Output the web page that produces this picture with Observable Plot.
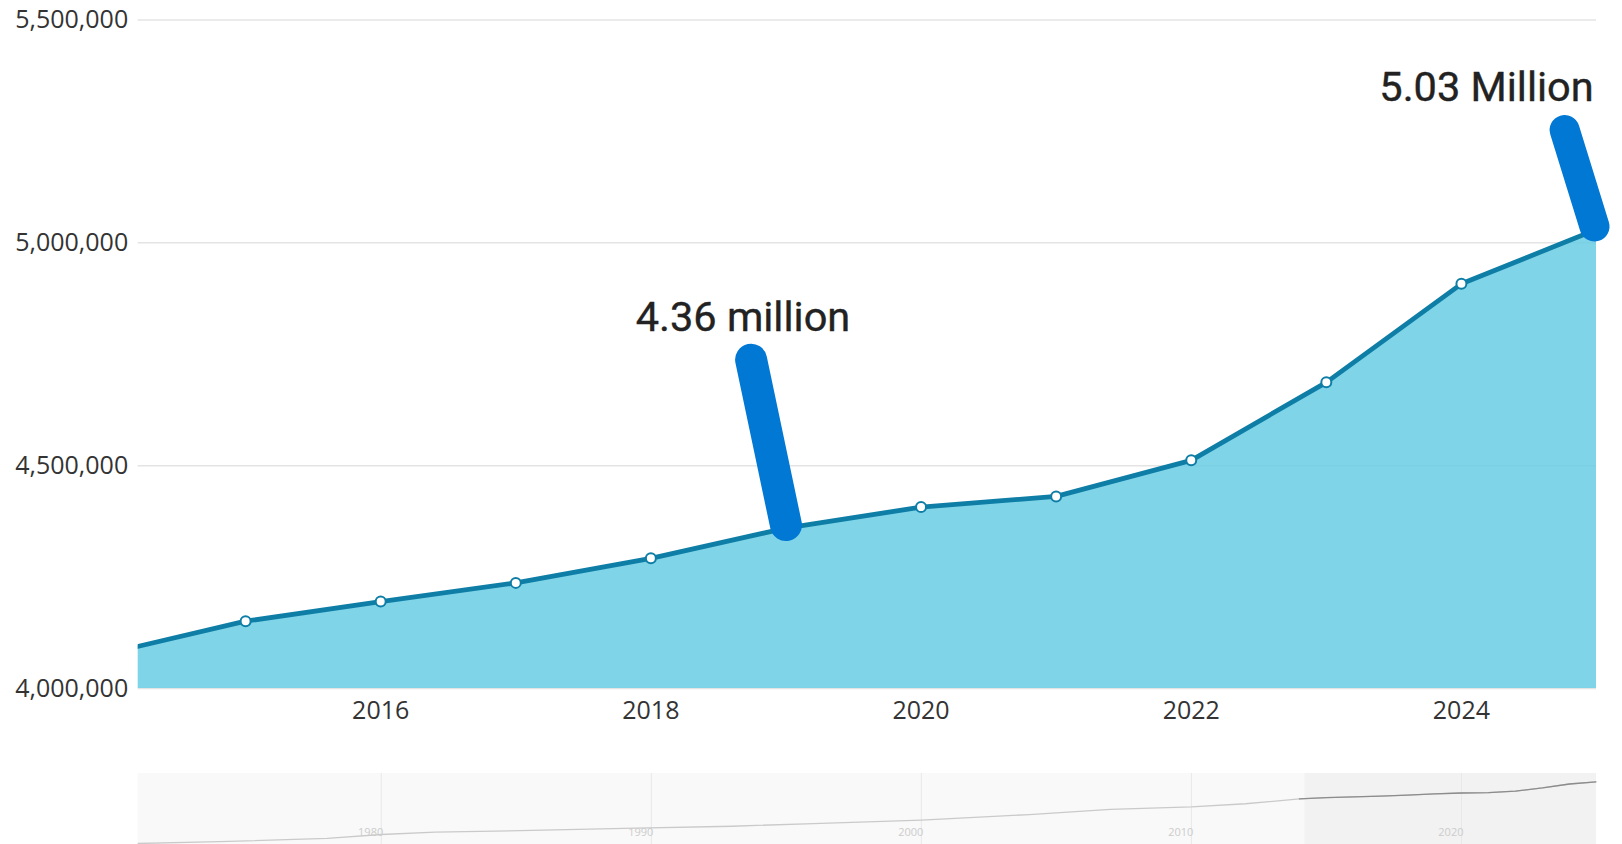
<!DOCTYPE html>
<html>
<head>
<meta charset="utf-8">
<script src="https://cdn.jsdelivr.net/npm/d3@7"></script>
<script src="https://cdn.jsdelivr.net/npm/@observablehq/plot@0.6"></script>
<style>
  html, body { margin: 0; padding: 0; background: #fff; overflow: hidden; }
  #chart svg, #nav svg { display: block; }
</style>
</head>
<body>
<div id="chart"></div>
<div id="nav"></div>
<script>
// ---- Data ----
const years = [2014, 2015, 2016, 2017, 2018, 2019, 2020, 2021, 2022, 2023, 2024, 2025];
const population = [4080000, 4151000, 4195000, 4237000, 4292000, 4360000, 4407000, 4431000, 4512000, 4687000, 4908000, 5030000];

// Navigator (full history) — earlier years
const navYears = [1971, 1974, 1978, 1980, 1982, 1986, 1989, 1993, 1996, 2000, 2004, 2007, 2010, 2012];
const navValues = [1600000, 1700000, 1880000, 2100000, 2230000, 2340000, 2440000, 2560000, 2710000, 2900000, 3210000, 3500000, 3640000, 3810000];

const yTicks = [4000000, 4500000, 5000000, 5500000];
const xTicks = [2016, 2018, 2020, 2022, 2024];
const navTicks = [1980, 1990, 2000, 2010, 2020];

const annYears = [2019, 2025];
const annValues = [4360000, 5030000];
const annLabels = ["4.36 million", "5.03 Million"];

const viewWindow = [2014.205, 2025];   // zoomed range shown in the main chart
const navWindow = [1971, 2025];        // full range shown in the navigator
const yDomain = [4000000, 5500000];

// ---- Tables ----
const data = years.map((year, i) => ({year, value: population[i]}));
const navData = navYears.map((year, i) => ({year, value: navValues[i]})).concat(data);
const ann = annYears.map((year, i) => ({year, value: annValues[i], label: annLabels[i]}));

const axisFont = "'Segoe UI', 'Open Sans', 'Noto Sans', sans-serif";
const lineColor = "#0e7ea6";
const markerColor = "#0078d4";

const main = Plot.plot({
  width: 1622,
  height: 773,
  marginLeft: 137.7,
  marginRight: 26,
  marginTop: 19.5,
  marginBottom: 85,
  style: {fontFamily: axisFont, fontSize: "25px", color: "#333", background: "transparent", overflow: "visible"},
  x: {domain: viewWindow},
  y: {domain: yDomain},
  marks: [
    Plot.ruleY(yTicks, {stroke: "#e4e4e4", strokeWidth: 1.5}),
    Plot.areaY(data, {x: "year", y: "value", fill: "#68cce4", fillOpacity: 0.85, clip: true}),
    Plot.lineY(data, {x: "year", y: "value", stroke: lineColor, strokeWidth: 4.8, clip: true}),
    Plot.dot(data, {x: "year", y: "value", r: 5, fill: "white", stroke: lineColor, strokeWidth: 2, clip: true}),
    Plot.axisY({ticks: yTicks, tickFormat: d3.format(","), tickSize: 0, tickPadding: 10, label: null, fill: "#333"}),
    Plot.axisX({ticks: xTicks, tickFormat: d => String(d), tickSize: 0, tickPadding: 13, label: null, fill: "#333"}),
    // annotation markers
    Plot.vector(ann.slice(0, 1), {x: "year", y: "value", length: 169, rotate: -11.9, anchor: "start", shape: "arrow", r: 0,
      stroke: markerColor, strokeWidth: 32, strokeLinecap: "round", dy: -3}),
    Plot.vector(ann.slice(1, 2), {x: "year", y: "value", length: 101, rotate: -17.2, anchor: "start", shape: "arrow", r: 0,
      stroke: markerColor, strokeWidth: 30, strokeLinecap: "round", dx: -2, dy: -3}),
    // annotation labels
    Plot.text(ann.slice(0, 1), {x: "year", y: "value", text: "label", dx: -43, dy: -210,
      fontFamily: "Roboto, sans-serif", fontSize: 41.5, fontWeight: 400, fill: "#222", stroke: "#222", strokeWidth: 0.4}),
    Plot.text(ann.slice(1, 2), {x: "year", y: "value", text: "label", dx: -110, dy: -142,
      fontFamily: "Roboto, sans-serif", fontSize: 41.5, fontWeight: 400, fill: "#222", stroke: "#222", strokeWidth: 0.4})
  ]
});
document.getElementById("chart").append(main);

const nav = Plot.plot({
  width: 1622,
  height: 71,
  marginLeft: 137.7,
  marginRight: 26,
  marginTop: 0,
  marginBottom: 0,
  style: {fontFamily: axisFont, background: "transparent", overflow: "visible"},
  x: {domain: navWindow, axis: null},
  y: {domain: d3.extent(navData, d => d.value), range: [70, 8.3], axis: null},
  marks: [
    Plot.rect([{x1: navWindow[0], x2: navWindow[1]}], {x1: "x1", x2: "x2", fill: "#f9f9f9"}),
    Plot.rect([{x1: viewWindow[0], x2: viewWindow[1]}], {x1: "x1", x2: "x2", fill: "#f2f2f2"}),
    Plot.ruleX(navTicks, {stroke: "#e8e8e8", strokeWidth: 1}),
    Plot.lineY(navData, {x: "year", y: "value", stroke: "#cacaca", strokeWidth: 1.3}),
    Plot.lineY(data, {x: "year", y: "value", stroke: "#8c8c8c", strokeWidth: 1.3, clip: true}),
    Plot.text(navTicks, {x: d => d, text: d => String(d), frameAnchor: "bottom", dy: -9, dx: 2,
      textAnchor: "end", fontSize: 11, fill: "#cccccc"})
  ]
});
document.getElementById("nav").append(nav);
</script>
</body>
</html>
